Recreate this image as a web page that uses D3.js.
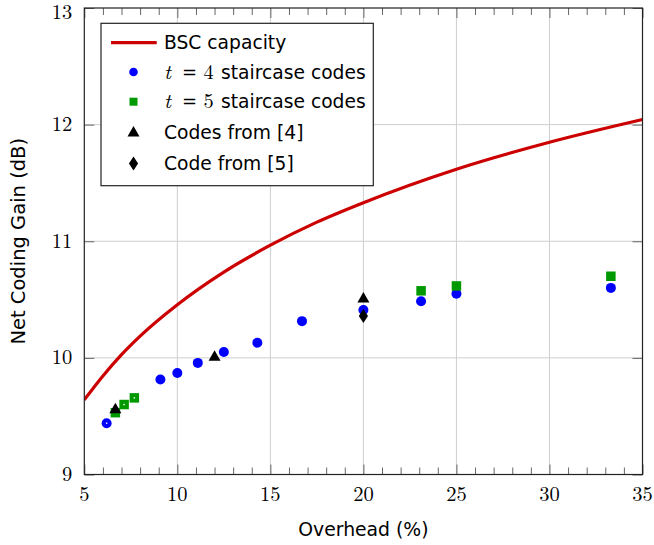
<!DOCTYPE html>
<html><head><meta charset="utf-8">
<script src="https://cdn.jsdelivr.net/npm/d3@7"></script>
<style>body{margin:0;background:#fff;}</style>
</head><body><svg id="c" width="654" height="545"></svg>
<script>
// BSC capacity curve
const capOH  = [5, 6, 7, 8, 10, 12.5, 15, 17.5, 20, 25, 30, 35];
const capNCG = [9.64, 9.845, 10.028, 10.187, 10.456, 10.736, 10.966, 11.164, 11.331, 11.618, 11.849, 12.044];
// t=4 staircase codes
const t4OH  = [6.2, 9.09, 10, 11.1, 12.5, 14.3, 16.7, 20, 23.1, 25, 33.3];
const t4NCG = [9.44, 9.815, 9.87, 9.957, 10.05, 10.13, 10.315, 10.41, 10.486, 10.55, 10.60];
// t=5 staircase codes
const t5OH  = [6.67, 7.14, 7.69, 23.1, 25, 33.3];
const t5NCG = [9.53, 9.60, 9.657, 10.575, 10.617, 10.70];
// Codes from [4]
const c4OH  = [6.67, 12, 20];
const c4NCG = [9.56, 10.01, 10.51];
// Code from [5]
const c5OH  = [20];
const c5NCG = [10.36];
const xTicks = [5, 10, 15, 20, 25, 30, 35];
const yTicks = [9, 10, 11, 12, 13];

const svg = d3.select("#c");
const L = 84.3, R = 642.5, T = 8, B = 474.5;
const x = d3.scaleLinear().domain([5, 35]).range([L, R]);
const y = d3.scaleLinear().domain([9, 13]).range([B, T]);
const serif = "'Latin Modern Roman','Liberation Serif',serif";
const sans = "'DejaVu Sans','Liberation Sans',sans-serif";

// grid
const g = svg.append("g");
g.selectAll(".gx").data(xTicks.slice(1, -1)).enter().append("line")
  .attr("x1", d => x(d)).attr("x2", d => x(d)).attr("y1", T).attr("y2", B)
  .attr("stroke", "#cfcfcf").attr("stroke-width", 1);
g.selectAll(".gy").data(yTicks.slice(1, -1)).enter().append("line")
  .attr("y1", d => y(d)).attr("y2", d => y(d)).attr("x1", L).attr("x2", R)
  .attr("stroke", "#cfcfcf").attr("stroke-width", 1);

// axes with inward ticks on all sides
const minor = d3.range(5, 36, 1).filter(v => v % 5 !== 0);
function tickAxes() {
  const a = svg.append("g");
  a.append("g").attr("transform", `translate(0,${B})`)
    .call(d3.axisTop(x).tickValues(minor).tickSize(7).tickFormat(""));
  a.append("g").attr("transform", `translate(0,${T})`)
    .call(d3.axisBottom(x).tickValues(minor).tickSize(7).tickFormat(""));
  a.append("g").attr("transform", `translate(0,${B})`)
    .call(d3.axisTop(x).tickValues(xTicks).tickSize(10).tickFormat(""));
  a.append("g").attr("transform", `translate(0,${T})`)
    .call(d3.axisBottom(x).tickValues(xTicks).tickSize(10).tickFormat(""));
  a.append("g").attr("transform", `translate(${L},0)`)
    .call(d3.axisRight(y).tickValues(yTicks).tickSize(10).tickFormat(""));
  a.append("g").attr("transform", `translate(${R},0)`)
    .call(d3.axisLeft(y).tickValues(yTicks).tickSize(10).tickFormat(""));
  a.selectAll(".domain").remove();
  a.selectAll(".tick line").attr("stroke", "#666").attr("stroke-width", 1);
}
tickAxes();

// tick labels
svg.append("g").selectAll("text").data(xTicks).enter().append("text")
  .attr("x", d => x(d)).attr("y", B + 26).attr("text-anchor", "middle")
  .attr("font-family", serif).attr("font-size", 20.5).text(d => d);
svg.append("g").selectAll("text").data(yTicks).enter().append("text")
  .attr("x", L - 12).attr("y", d => Math.max(y(d) + 6.5, 18.8)).attr("text-anchor", "end")
  .attr("font-family", serif).attr("font-size", 20.5).text(d => d);

// axis titles
svg.append("text").attr("x", (L + R) / 2).attr("y", 536).attr("text-anchor", "middle")
  .attr("font-family", sans).attr("font-size", 18.8).text("Overhead (%)");
svg.append("text").attr("transform", `translate(25,${(T + B) / 2}) rotate(-90)`)
  .attr("text-anchor", "middle").attr("font-family", sans).attr("font-size", 19.5)
  .text("Net Coding Gain (dB)");

// clip
svg.append("clipPath").attr("id", "clip").append("rect")
  .attr("x", L).attr("y", T).attr("width", R - L).attr("height", B - T);

// capacity curve
const capData = capOH.map((d, i) => [d, capNCG[i]]);
svg.append("path").datum(capData).attr("clip-path", "url(#clip)")
  .attr("d", d3.line().x(d => x(d[0])).y(d => y(d[1])).curve(d3.curveMonotoneX))
  .attr("fill", "none").attr("stroke", "#cc0000").attr("stroke-width", 3.2);

const BLUE = "#0000ff", GREEN = "#009900";
const sym = (type, size) => d3.symbol().type(type).size(size)();

function drawSeries(xs, ys, path, color, dotIdx) {
  const gg = svg.append("g");
  xs.forEach((v, i) => {
    gg.append("path").attr("d", path)
      .attr("transform", `translate(${x(v)},${y(ys[i])})`).attr("fill", color);
    if (dotIdx && dotIdx.includes(i)) {
      gg.append("rect").attr("x", x(v) - 0.7).attr("y", y(ys[i]) - 0.7)
        .attr("width", 1.4).attr("height", 1.4).attr("fill", "#fff");
    }
  });
}
const circ = sym(d3.symbolCircle, Math.PI * 5 * 5);
const sq = sym(d3.symbolSquare, 9.5 * 9.5);
const tri = "M0,-6.5L6,4L-6,4Z";
const dia = "M0,-7L4.6,0L0,7L-4.6,0Z";

drawSeries(t4OH, t4NCG, circ, BLUE, [0]);
drawSeries(t5OH, t5NCG, sq, GREEN, [1, 2]);
drawSeries(c4OH, c4NCG, tri, "#000");
drawSeries(c5OH, c5NCG, dia, "#000");

// frame
svg.append("rect").attr("x", L).attr("y", T).attr("width", R - L).attr("height", B - T)
  .attr("fill", "none").attr("stroke", "#222").attr("stroke-width", 1.2);

// legend
const lg = svg.append("g");
lg.append("rect").attr("x", 101).attr("y", 23.3).attr("width", 272.3).attr("height", 162.4)
  .attr("fill", "#fff").attr("stroke", "#222").attr("stroke-width", 1.2);
const rows = [42.7, 72, 101.7, 132.5, 163.5];
lg.append("line").attr("x1", 111).attr("x2", 156.7).attr("y1", rows[0]).attr("y2", rows[0])
  .attr("stroke", "#cc0000").attr("stroke-width", 3.2);
lg.append("path").attr("d", sym(d3.symbolCircle, Math.PI * 4.3 * 4.3)).attr("transform", `translate(133.5,${rows[1]})`).attr("fill", BLUE);
lg.append("path").attr("d", sym(d3.symbolSquare, 8 * 8)).attr("transform", `translate(133.5,${rows[2]})`).attr("fill", GREEN);
lg.append("path").attr("d", tri).attr("transform", `translate(133.5,${rows[3]})`).attr("fill", "#000");
lg.append("path").attr("d", dia).attr("transform", `translate(133.5,${rows[4]})`).attr("fill", "#000");

const tx = 164;
const FS = 18.7;
function label(row, parts) {
  const t = lg.append("text").attr("y", rows[row] + 6.5).attr("font-size", FS);
  parts.forEach(p => {
    const s = t.append("tspan").attr("x", p.x).attr("font-family", p.f)
      .attr("font-style", p.i ? "italic" : "normal").text(p.s);
    if (p.fs) s.attr("font-size", p.fs);
  });
}
label(0, [{ x: tx, s: "BSC capacity", f: sans }]);
label(1, [{ x: tx, s: "t", f: serif, i: true, fs: 21 }, { x: 182, s: "=", f: "'DejaVu Serif',serif", fs: 18 }, { x: 203.5, s: "4", f: serif, fs: 20.5 }, { x: 221, s: "staircase codes", f: sans }]);
label(2, [{ x: tx, s: "t", f: serif, i: true, fs: 21 }, { x: 182, s: "=", f: "'DejaVu Serif',serif", fs: 18 }, { x: 203.5, s: "5", f: serif, fs: 20.5 }, { x: 221, s: "staircase codes", f: sans }]);
label(3, [{ x: tx, s: "Codes from [4]", f: sans }]);
label(4, [{ x: tx, s: "Code from [5]", f: sans }]);
</script></body></html>
